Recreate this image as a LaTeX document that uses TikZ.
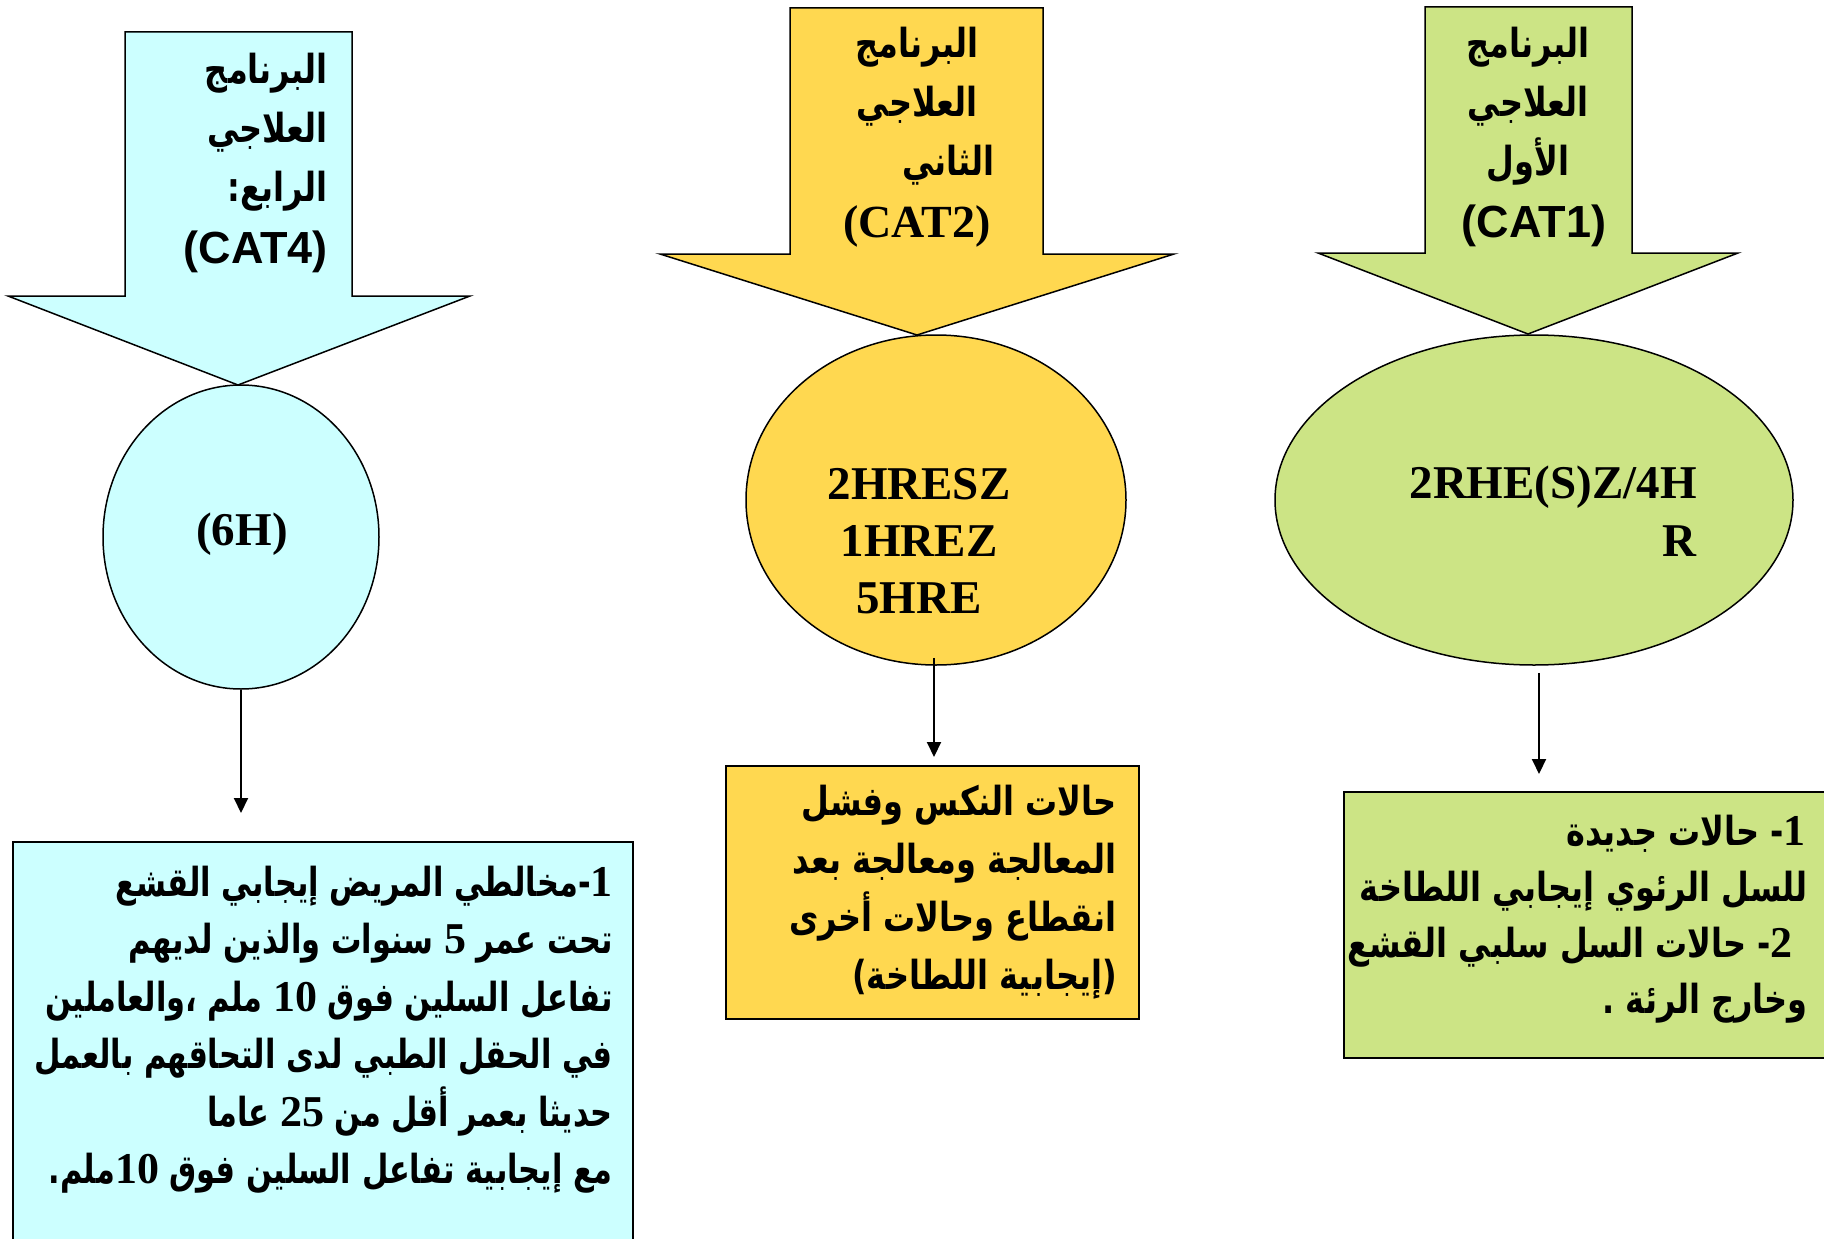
\documentclass[tikz,border=0pt]{standalone}
\usepackage{fontspec}
\usetikzlibrary{shapes.geometric,arrows.meta}
\setmainfont{Liberation Serif}
\newfontfamily\arabicfont[Script=Arabic,FakeStretch=0.8]{DejaVu Sans}
\newfontfamily\arabicnarrow[Script=Arabic,FakeStretch=0.76]{DejaVu Sans}
\newfontfamily\arialfont{Liberation Sans}
\TeXXeTstate=1
\newcommand\lat[1]{\beginL{\rmfamily\bfseries\fontsize{44}{57}\selectfont #1}\endL{}}
\definecolor{cyanfill}{HTML}{CCFFFF}
\definecolor{goldfill}{HTML}{FFD850}
\definecolor{greenfill}{HTML}{CCE485}
\begin{document}
\begin{tikzpicture}[x=1pt,y=-1pt,
  outline/.style={draw=black,line width=1.5pt,line join=miter},
  blob/.style={ellipse,draw=black,line width=1.5pt,inner sep=0pt},
  panel/.style={rectangle,draw=black,line width=1.5pt,inner sep=0pt,anchor=north west},
  conn/.style={line width=2pt,-{Triangle[length=15pt,width=14pt]}},
  arrowtxt/.style={font=\arabicfont\bfseries\fontsize{40}{48}\selectfont,inner sep=0pt},
  boxtxt/.style={font=\arabicfont\bfseries\fontsize{40}{48}\selectfont,inner sep=0pt,anchor=base east},
  narrowtxt/.style={boxtxt,font=\arabicnarrow\bfseries\fontsize{40}{48}\selectfont},
  sanscat/.style={font=\arialfont\bfseries\fontsize{45}{54}\selectfont,inner sep=0pt},
  serifcat/.style={font=\rmfamily\bfseries\fontsize{46}{54}\selectfont,inner sep=0pt},
  ellipsetxt/.style={font=\rmfamily\bfseries\fontsize{47}{57}\selectfont,inner sep=0pt}
]
\useasboundingbox (0,0) rectangle (1824,1239);
\fill[white] (0,0) rectangle (1824,1239);

% ---- block arrows ----
\filldraw[outline,fill=cyanfill] (125,32) -- (352,32) -- (352,296) -- (470,296) -- (238,385) -- (8,296) -- (125,296) -- cycle;
\filldraw[outline,fill=goldfill] (790,8) -- (1043,8) -- (1043,254) -- (1174,254) -- (917,335) -- (660,254) -- (790,254) -- cycle;
\filldraw[outline,fill=greenfill] (1425,7) -- (1632,7) -- (1632,253) -- (1738,253) -- (1528,334) -- (1318,253) -- (1425,253) -- cycle;

% arrow texts
\node[arrowtxt,anchor=base east] (c4a) at (328,84) {\beginR البرنامج\endR};
\node[arrowtxt,anchor=base east] (c4b) at (328,142) {\beginR العلاجي\endR};
\node[arrowtxt,anchor=base east] (c4c) at (328,201) {\beginR الرابع:\endR};
\node[sanscat,anchor=base east] (c4d) at (328,263) {(CAT4)};

\node[arrowtxt,anchor=base] (c2a) at (917,58) {\beginR البرنامج\endR};
\node[arrowtxt,anchor=base] (c2b) at (917,116) {\beginR العلاجي\endR};
\node[arrowtxt,anchor=base east] (c2c) at (995,175) {\beginR الثاني\endR};
\node[serifcat,anchor=base] (c2d) at (917,237) {(CAT2)};

\node[arrowtxt,anchor=base] (c1a) at (1528,58) {\beginR البرنامج\endR};
\node[arrowtxt,anchor=base] (c1b) at (1528,116) {\beginR العلاجي\endR};
\node[arrowtxt,anchor=base] (c1c) at (1528,175) {\beginR الأول\endR};
\node[sanscat,anchor=base] (c1d) at (1534,237) {(CAT1)};

% ---- ellipses ----
\node[blob,fill=cyanfill,minimum width=276pt,minimum height=304pt] (e4) at (241,537) {};
\node[blob,fill=goldfill,minimum width=380pt,minimum height=330pt] (e2) at (936,500) {};
\node[blob,fill=greenfill,minimum width=518pt,minimum height=330pt] (e1) at (1534,500) {};

\node[ellipsetxt,anchor=base] (r4) at (242,545) {(6H)};
\node[ellipsetxt,anchor=base] (r2a) at (919,499) {2HRESZ};
\node[ellipsetxt,anchor=base] (r2b) at (919,556) {1HREZ};
\node[ellipsetxt,anchor=base] (r2c) at (919,613) {5HRE};
\node[ellipsetxt,anchor=base east] (r1a) at (1697,498) {2RHE(S)Z/4H};
\node[ellipsetxt,anchor=base east] (r1b) at (1697,556) {R};

% ---- boxes ----
\node[panel,fill=cyanfill,minimum width=620pt,minimum height=420pt] (b4) at (12,841) {};
\node[panel,fill=goldfill,minimum width=413pt,minimum height=253pt] (b2) at (725,765) {};
\node[panel,fill=greenfill,minimum width=497pt,minimum height=266pt] (b1) at (1343,791) {};

% box texts
\node[narrowtxt] (t4a) at (613,896) {\beginR\lat{1}-مخالطي المريض إيجابي القشع\endR};
\node[narrowtxt] (t4b) at (613,953.5) {\beginR تحت عمر \lat{5} سنوات والذين لديهم\endR};
\node[narrowtxt] (t4c) at (613,1011) {\beginR تفاعل السلين فوق \lat{10} ملم ،والعاملين\endR};
\node[narrowtxt] (t4d) at (613,1068.5) {\beginR في الحقل الطبي لدى التحاقهم بالعمل\endR};
\node[narrowtxt] (t4e) at (613,1126) {\beginR حديثا بعمر أقل من \lat{25} عاما\endR};
\node[narrowtxt] (t4f) at (613,1183.5) {\beginR مع إيجابية تفاعل السلين فوق \lat{10}ملم.\endR};

\node[boxtxt] (t2a) at (1117,815) {\beginR حالات النكس وفشل\endR};
\node[boxtxt] (t2b) at (1117,873) {\beginR المعالجة ومعالجة بعد\endR};
\node[boxtxt] (t2c) at (1117,931) {\beginR انقطاع وحالات أخرى\endR};
\node[boxtxt] (t2d) at (1117,989) {\beginR (إيجابية اللطاخة)\endR};

\node[boxtxt] (t1a) at (1806,845) {\beginR\lat{1}- حالات جديدة\endR};
\node[boxtxt] (t1b) at (1808,901) {\beginR للسل الرئوي إيجابي اللطاخة\endR};
\node[boxtxt] (t1c) at (1808,957) {\beginR\hspace*{15pt}\lat{2}- حالات السل سلبي القشع\endR};
\node[boxtxt] (t1d) at (1808,1013) {\beginR وخارج الرئة .\endR};

% ---- connectors ----
\draw[conn,shorten >=28pt] (e4.south) -- (e4.south |- b4.north);
\draw[conn,shorten <=-8pt,shorten >=8pt] ([xshift=-2pt]e2.south) -- ([xshift=-2pt]e2.south |- b2.north);
\draw[conn,shorten <=7pt,shorten >=17pt] ([xshift=5pt]e1.south) -- ([xshift=5pt]e1.south |- b1.north);
\end{tikzpicture}
\end{document}
